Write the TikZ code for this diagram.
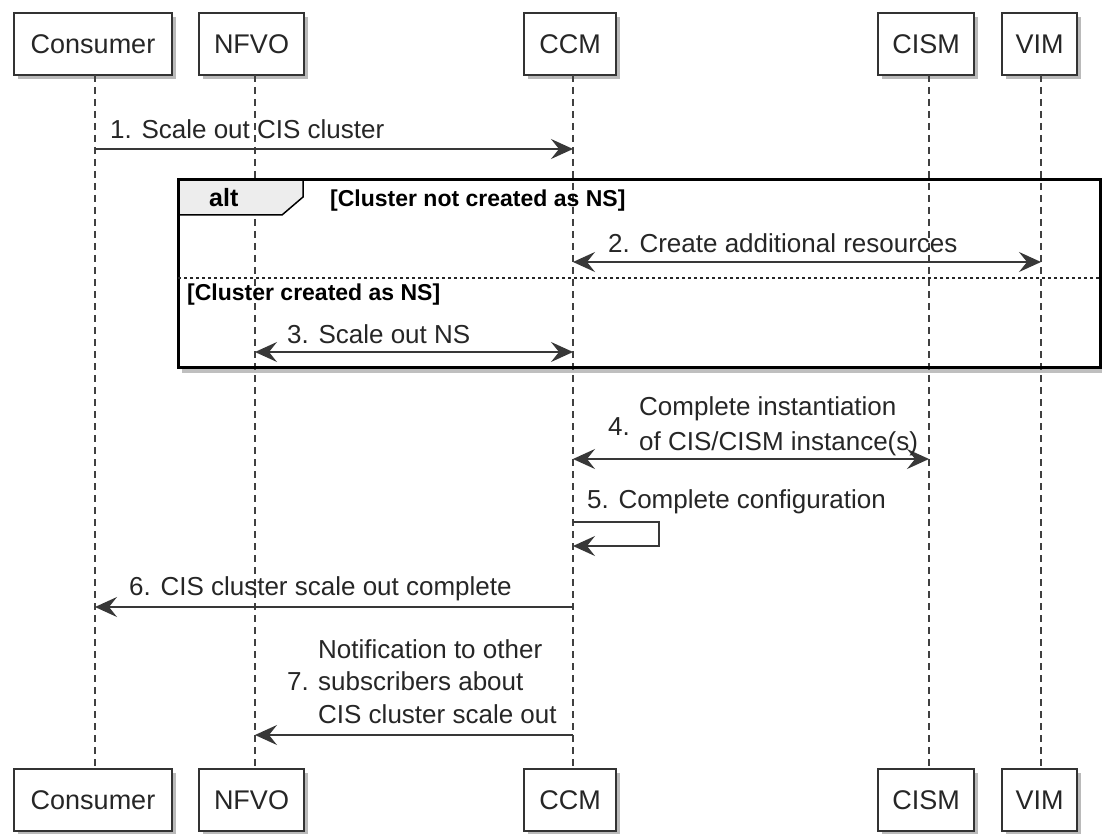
\documentclass[tikz,border=0pt]{standalone}
\usepackage{fontspec}
\setmainfont{Liberation Sans}
\usetikzlibrary{arrows.meta,shadows}
\begin{document}
\begin{tikzpicture}[x=1pt,y=-1pt,
  pbox/.style={draw=black!80, line width=1.8pt, fill=white, inner sep=0pt,
    minimum height=62pt, text=black!85, font=\fontsize{27}{30}\selectfont,
    drop shadow={shadow xshift=4pt,shadow yshift=-4pt,opacity=0.45,fill=black!60}},
  life/.style={draw=black!75, line width=1.4pt, dash pattern=on 7pt off 5pt},
  tipm/.tip={Stealth[length=22pt,width=20pt,inset=8pt]},
  msg/.style={draw=black!78, line width=1.7pt, -tipm},
  dmsg/.style={draw=black!78, line width=1.7pt, tipm-tipm},
  lbl/.style={anchor=base west, inner sep=0pt, text=black!85, font=\fontsize{26}{30}\selectfont},
  cond/.style={anchor=base west, inner sep=0pt, text=black, font=\bfseries\fontsize{23}{26}\selectfont},
]
\useasboundingbox (0,0) rectangle (1102,834);
\clip (0,0) rectangle (1102,834);
\fill[white] (0,0) rectangle (1102,834);

% participants top
\node[pbox, minimum width=158pt] (consT) at (93,44) {Consumer};
\node[pbox, minimum width=105pt] (nfvoT) at (251.5,44) {NFVO};
\node[pbox, minimum width=92pt] (ccmT) at (570,44) {CCM};
\node[pbox, minimum width=96pt] (cismT) at (926,44) {CISM};
\node[pbox, minimum width=75pt] (vimT) at (1039.5,44) {VIM};
% participants bottom
\node[pbox, minimum width=158pt] (consB) at (93,800) {Consumer};
\node[pbox, minimum width=105pt] (nfvoB) at (251.5,800) {NFVO};
\node[pbox, minimum width=92pt] (ccmB) at (570,800) {CCM};
\node[pbox, minimum width=96pt] (cismB) at (926,800) {CISM};
\node[pbox, minimum width=75pt] (vimB) at (1039.5,800) {VIM};

% lifelines
\coordinate (cons1) at (95,75);  \coordinate (cons2) at (95,769);
\coordinate (nfvo1) at (255,75); \coordinate (nfvo2) at (255,769);
\coordinate (ccm1) at (573,75);  \coordinate (ccm2) at (573,769);
\coordinate (cism1) at (929,75); \coordinate (cism2) at (929,769);
\coordinate (vim1) at (1041,75); \coordinate (vim2) at (1041,769);
\draw[life] (cons1) -- (cons2);
\draw[life] (nfvo1) -- (nfvo2);
\draw[life] (ccm1) -- (ccm2);
\draw[life] (cism1) -- (cism2);
\draw[life] (vim1) -- (vim2);

% alt frame
\fill[black!55, opacity=0.45] (182,368) rectangle (1110,373);
\draw[fill=black!7, line width=1.5pt] (178,180) -- (303,180) -- (303,197) -- (282,215) -- (178,215) -- cycle;
\draw[line width=3pt, black] (178,180) rectangle (1100,367);
\draw[black!85, line width=1.3pt, dash pattern=on 3pt off 3pt] (178,278) -- (1102,278);
\node[cond, font=\bfseries\fontsize{25}{28}\selectfont] (altl) at (209,207) {alt};
\node[cond] (c1) at (330,207) {[Cluster not created as NS]};
\node[cond] (c2) at (187,300) {[Cluster created as NS]};

% message 1
\coordinate (m1a) at (95,149); \coordinate (m1b) at (573,149);
\draw[msg] (m1a) -- (m1b);
\node[lbl] (t1) at (110,139) {1. Scale out CIS cluster};

% message 2
\coordinate (m2a) at (573,262); \coordinate (m2b) at (1041,262);
\draw[dmsg] (m2a) -- (m2b);
\node[lbl] (t2) at (608,252) {2. Create additional resources};

% message 3
\coordinate (m3a) at (255,352); \coordinate (m3b) at (573,352);
\draw[dmsg] (m3a) -- (m3b);
\node[lbl] (t3) at (287,343) {3. Scale out NS};

% message 4
\coordinate (m4a) at (573,459); \coordinate (m4b) at (929,459);
\draw[dmsg] (m4a) -- (m4b);
\node[lbl] (t4n) at (608,435) {4.};
\node[lbl] (t4a) at (639,415) {Complete instantiation};
\node[lbl] (t4b) at (639,450) {of CIS/CISM instance(s)};

% message 5
\coordinate (m5a) at (573,522); \coordinate (m5b) at (573,546);
\draw[msg] (m5a) -- ++(86,0) |- (m5b);
\node[lbl] (t5) at (587,508) {5. Complete configuration};

% message 6
\coordinate (m6a) at (573,607); \coordinate (m6b) at (95,607);
\draw[msg] (m6a) -- (m6b);
\node[lbl] (t6) at (129,595) {6. CIS cluster scale out complete};

% message 7
\coordinate (m7a) at (573,735); \coordinate (m7b) at (255,735);
\draw[msg] (m7a) -- (m7b);
\node[lbl] (t7n) at (287,690) {7.};
\node[lbl] (t7a) at (318,658) {Notification to other};
\node[lbl] (t7b) at (318,690) {subscribers about};
\node[lbl] (t7c) at (318,723) {CIS cluster scale out};
\end{tikzpicture}
\end{document}
